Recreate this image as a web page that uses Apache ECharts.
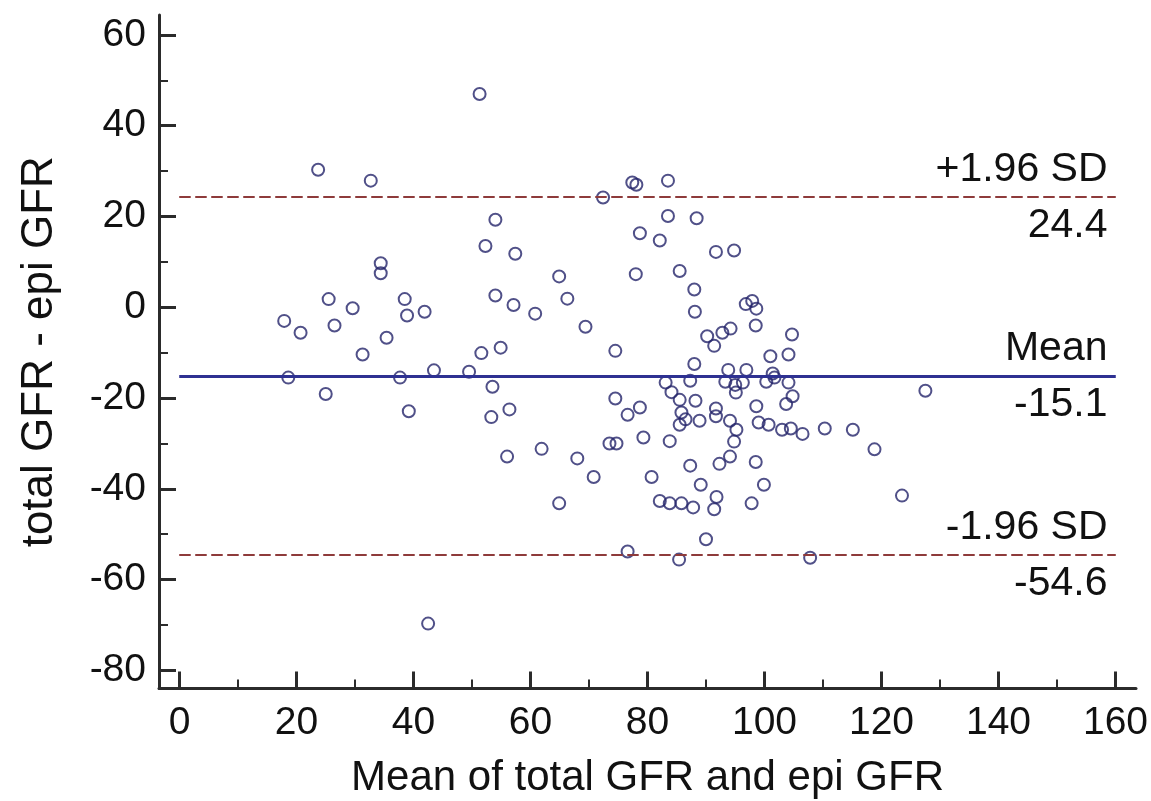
<!DOCTYPE html>
<html>
<head>
<meta charset="utf-8">
<script src="https://cdn.jsdelivr.net/npm/echarts@6/dist/echarts.min.js"></script>
<style>
  html, body { margin: 0; padding: 0; background: #fff; }
  #main { width: 1151px; height: 801px; }
</style>
</head>
<body>
<div id="main"></div>
<script>
// mean of total GFR and epi GFR (x) / difference (y)
let meanGfr = [
  23.7, 32.7, 34.4, 34.4, 25.5, 29.6, 38.5, 17.9, 20.7, 26.5, 38.9, 41.9, 35.4, 31.3,
  18.6, 37.7, 43.5, 25.0, 39.2, 42.5,
  51.3, 77.4, 78.1, 83.5, 72.4, 54.0, 83.5, 88.4, 52.3, 57.4, 78.7, 82.1, 64.9, 78.0,
  85.5, 88.0, 88.1, 54.0, 57.1, 60.8, 66.3, 69.4, 51.6, 54.9, 74.5,
  91.7, 94.8, 96.8, 97.9, 98.6, 98.5, 90.2, 92.8, 94.2, 91.4, 104.7, 101.0, 104.1,
  49.5, 53.5, 53.3, 56.4, 56.0, 61.9, 68.0, 70.8, 64.9, 74.5, 76.6, 78.7, 73.5, 74.7,
  79.3, 83.8, 80.7, 82.1, 83.8, 85.8, 87.8, 76.6, 85.4, 83.1, 84.1, 85.5, 85.8, 86.5,
  85.5, 87.3, 88.0, 88.2, 87.3,
  93.8, 96.9, 101.4, 93.3, 95.0, 96.3, 95.1, 100.3, 101.7, 104.1, 104.8, 103.7, 91.7,
  91.7, 88.9, 94.1, 95.2, 94.8, 98.6, 99.0, 100.7, 103.0, 104.5, 106.5, 110.3, 115.1,
  118.8, 127.5, 123.5, 94.1, 92.3, 98.5, 89.1, 99.9, 91.8, 91.4, 97.8, 90.0, 107.8
];
let diffGfr = [
  30.3, 27.9, 9.7, 7.5, 1.8, -0.2, 1.8, -3.0, -5.6, -4.0, -1.8, -1.0, -6.7, -10.4,
  -15.5, -15.5, -13.9, -19.1, -22.9, -69.7,
  47.0, 27.5, 27.0, 27.9, 24.2, 19.3, 20.1, 19.6, 13.5, 11.8, 16.3, 14.7, 6.8, 7.3,
  8.0, 3.9, -1.0, 2.6, 0.5, -1.4, 1.9, -4.3, -10.1, -8.9, -9.6,
  12.2, 12.5, 0.7, 1.4, -0.3, -4.0, -6.4, -5.6, -4.7, -8.5, -6.0, -10.8, -10.4,
  -14.2, -17.5, -24.2, -22.5, -32.9, -31.2, -33.3, -37.4, -43.2, -20.1, -23.7, -22.1, -30.0, -30.0,
  -28.7, -29.5, -37.4, -42.7, -43.2, -43.2, -44.1, -53.8, -55.6, -16.6, -18.7, -20.4, -23.2, -24.7,
  -25.9, -16.2, -12.5, -20.6, -34.9,
  -13.8, -13.8, -14.6, -16.4, -17.1, -16.6, -18.8, -16.4, -15.5, -16.6, -19.6, -21.3, -22.3,
  -24.0, -25.0, -25.0, -27.0, -29.6, -21.8, -25.4, -25.9, -27.0, -26.7, -27.9, -26.7, -27.0,
  -31.3, -18.4, -41.5, -32.9, -34.5, -34.1, -39.1, -39.1, -41.8, -44.5, -43.2, -51.1, -55.2
];

// mean difference and limits of agreement
let limitValues = [24.4, -15.1, -54.6];
let limitNames = ["+1.96 SD", "Mean", "-1.96 SD"];
let limitRange = [0, 160];

let xTicks = [0, 20, 40, 60, 80, 100, 120, 140, 160];
let xMinorTicks = [10, 30, 50, 70, 90, 110, 130, 150];
let yTicks = [-80, -60, -40, -20, 0, 20, 40, 60];
let yMinorTicks = [-70, -50, -30, -10, 10, 30, 50];

let font = "'Liberation Sans', Arial, sans-serif";
let axisColor = "#2b2b2b";

let points = meanGfr.map((m, i) => [m, diffGfr[i]]);

// two lines per limit: one carries the name above, the other the value below
let limitLines = [];
limitValues.forEach((v, i) => {
  let isMean = limitNames[i] == "Mean";
  let style = isMean
    ? { color: "#2e3192", width: 3, type: "solid" }
    : { color: "#8e3b3b", width: 2, type: [11, 5] };
  limitLines.push([
    {
      coord: [limitRange[0], v],
      lineStyle: style,
      label: { position: "insideEndTop", formatter: limitNames[i], distance: [8, 6] },
    },
    { coord: [limitRange[1], v] },
  ]);
  limitLines.push([
    {
      coord: [limitRange[0], v],
      lineStyle: style,
      label: { position: "insideEndBottom", formatter: v.toFixed(1), distance: [8, 8] },
    },
    { coord: [limitRange[1], v] },
  ]);
});

let myChart = echarts.init(document.getElementById("main"), null, { renderer: "canvas" });

let option = {
  backgroundColor: "#ffffff",
  animation: false,
  grid: {
    left: 159,
    right: 15,
    top: 15,
    bottom: 112.5,
    containLabel: false,
    outerBoundsMode: "none",
  },
  xAxis: [
    {
      type: "value",
      min: -3.5,
      max: 163.5,
      position: "bottom",
      name: "Mean of total GFR and epi GFR",
      nameLocation: "middle",
      nameGap: 69,
      nameTextStyle: { fontFamily: font, fontSize: 42, color: "#111" },
      axisLine: { onZero: false, lineStyle: { color: axisColor, width: 3 } },
      axisTick: {
        inside: true,
        length: 17,
        customValues: xTicks,
        lineStyle: { color: axisColor, width: 3 },
      },
      axisLabel: {
        customValues: xTicks,
        margin: 15,
        fontFamily: font,
        fontSize: 39,
        color: "#111",
      },
      splitLine: { show: false },
    },
    {
      // minor ticks only
      type: "value",
      min: -3.5,
      max: 163.5,
      position: "bottom",
      axisLine: { show: false, onZero: false },
      axisTick: {
        inside: true,
        length: 9,
        customValues: xMinorTicks,
        lineStyle: { color: axisColor, width: 2 },
      },
      axisLabel: { show: false },
      splitLine: { show: false },
    },
  ],
  yAxis: [
    {
      type: "value",
      min: -84,
      max: 64.4,
      position: "left",
      name: "total GFR - epi GFR",
      nameLocation: "middle",
      nameGap: 97,
      nameTextStyle: { fontFamily: font, fontSize: 44, color: "#111" },
      axisLine: { show: true, onZero: false, lineStyle: { color: axisColor, width: 3 } },
      axisTick: {
        show: true,
        inside: true,
        length: 17,
        customValues: yTicks,
        lineStyle: { color: axisColor, width: 3 },
      },
      axisLabel: {
        customValues: yTicks,
        margin: 13,
        fontFamily: font,
        fontSize: 39,
        color: "#111",
      },
      splitLine: { show: false },
    },
    {
      type: "value",
      min: -84,
      max: 64.4,
      position: "left",
      axisLine: { show: false, onZero: false },
      axisTick: {
        show: true,
        inside: true,
        length: 9,
        customValues: yMinorTicks,
        lineStyle: { color: axisColor, width: 2 },
      },
      axisLabel: { show: false },
      splitLine: { show: false },
    },
  ],
  series: [
    {
      type: "scatter",
      xAxisIndex: 0,
      yAxisIndex: 0,
      data: points,
      symbol: "circle",
      symbolSize: 12,
      itemStyle: { color: "rgba(0,0,0,0)", borderColor: "#24246a", borderWidth: 2 },
      markLine: {
        silent: true,
        symbol: ["none", "none"],
        animation: false,
        label: {
          fontFamily: font,
          fontSize: 41,
          lineHeight: 42,
          color: "#111",
        },
        data: limitLines,
      },
      z: 3,
    },
  ],
};

myChart.setOption(option);
</script>
</body>
</html>
